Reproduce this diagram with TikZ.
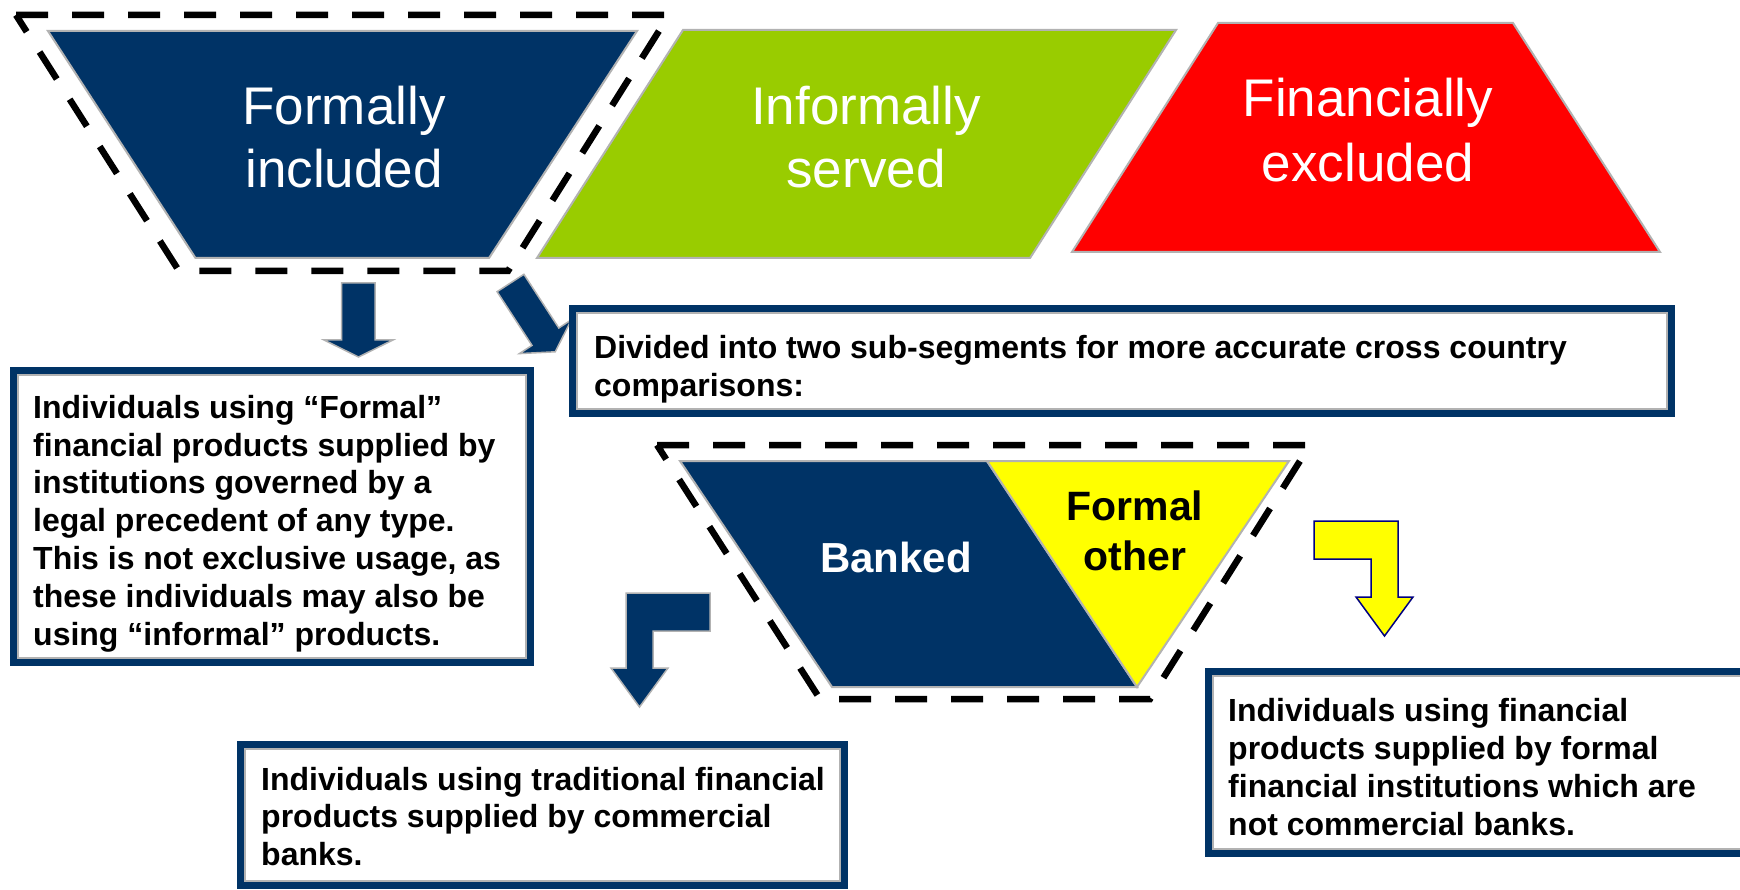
\documentclass[tikz,border=0pt]{standalone}
\usepackage{fontspec}
\setmainfont{Liberation Sans}
\definecolor{navy}{HTML}{003366}
\definecolor{leaf}{HTML}{99CC00}
\definecolor{alarm}{HTML}{FF0000}
\definecolor{lemon}{HTML}{FFFF00}
\definecolor{rim}{HTML}{B2B2B2}
\definecolor{deepblue}{HTML}{000080}
\begin{document}
% multi-line nodes are placed by the baseline of their last line
\begin{tikzpicture}[x=1pt,y=-1pt,
  segment/.style={draw=rim,line width=2pt,line join=miter},
  groupline/.style={draw=black,line width=6.5pt,dash pattern=on 32pt off 24pt,line join=miter},
  blockarrow/.style={fill=navy,draw=rim,line width=1.5pt,line join=miter},
  cardframe/.style={draw=navy,line width=8pt,fill=white},
  cardrim/.style={draw=rim,line width=1.2pt},
  bigtitle/.style={text=white,align=center,inner sep=0pt,anchor=base,
    font=\fontsize{53}{63.5}\selectfont},
  cardtext/.style={align=left,inner sep=0pt,anchor=base west,
    font=\fontsize{32}{37.8}\selectfont\bfseries},
  subtitle/.style={align=center,inner sep=0pt,anchor=base,
    font=\fontsize{42}{50}\selectfont\bfseries}]

\useasboundingbox (0,0) rectangle (1740,890);
\fill[white] (0,0) rectangle (1740,890);

% three top segments
\draw[segment,fill=navy] (48,31) -- (637,31) -- (489,258) -- (195.5,258) -- cycle;
\draw[segment,fill=leaf] (683,30) -- (1176,30) -- (1030,258) -- (537,258) -- cycle;
\draw[segment,fill=alarm] (1218,23) -- (1513,23) -- (1660,252) -- (1072,252) -- cycle;
\draw[groupline] (16,15) -- (669,15) -- (508,271) -- (179,271) -- cycle;

\node[bigtitle] (formal) at (344,188) {Formally\\included};
\node[bigtitle] (informal) at (866,188) {Informally\\served};
\node[bigtitle,font=\fontsize{53}{65}\selectfont] (excluded) at (1368,182) {Financially\\excluded};

% arrows leaving the formal segment
\draw[blockarrow] (341.5,283) -- (375,283) -- (375,340) -- (393,340) -- (358.5,357)
  -- (324,340) -- (341.5,340) -- cycle;
\draw[blockarrow] (523.9,274.3) -- (558.8,328.0) -- (571.4,319.8) -- (555.2,351.8)
  -- (519.4,353.6) -- (532.0,345.4) -- (497.1,291.7) -- cycle;

% description cards
\draw[cardframe] (573,309) rectangle (1671,413);
\draw[cardrim] (577,313) rectangle (1667,409);
\node[cardtext,font=\fontsize{32}{38}\selectfont\bfseries] (divided) at (594,396)
  {Divided into two sub-segments for more accurate cross country\\comparisons:};

\draw[cardframe] (14,371) rectangle (530,662);
\draw[cardrim] (18,375) rectangle (526,658);
\node[cardtext] (formaldesc) at (33,645)
  {Individuals using “Formal”\\financial products supplied by\\institutions governed by a\\legal precedent of any type.\\This is not exclusive usage, as\\these individuals may also be\\using “informal” products.};

% banked / formal other split
\draw[segment,fill=navy] (680,461) -- (987,461) -- (1137,687) -- (832,687) -- cycle;
\draw[segment,fill=lemon] (987,461) -- (1289,461) -- (1137,687) -- cycle;
\draw[groupline] (657,445) -- (1310,445) -- (1150,699) -- (820,699) -- cycle;
\node[subtitle,text=white] (banked) at (896,572) {Banked};
\node[subtitle,text=black,font=\fontsize{41}{50}\selectfont\bfseries] (fother) at (1135,570) {Formal\\other};

% bent arrows to the lower cards
\draw[blockarrow] (626,593) -- (710,593) -- (710,631) -- (653,631) -- (653,668)
  -- (668,668) -- (639.5,707) -- (611,668) -- (626,668) -- cycle;
\draw[fill=lemon,draw=deepblue,line width=1.5pt,line join=miter]
  (1314,521) -- (1398,521) -- (1398,597) -- (1413,597) -- (1384.5,636)
  -- (1356,597) -- (1371,597) -- (1371,559) -- (1314,559) -- cycle;

\draw[cardframe] (241,745) rectangle (844,885);
\draw[cardrim] (245,749) rectangle (840,881);
\node[cardtext,font=\fontsize{32}{37.5}\selectfont\bfseries] (bankdesc) at (261,865)
  {Individuals using traditional financial\\products supplied by commercial\\banks.};

\draw[cardframe] (1209,672) rectangle (1770,853);
\draw[cardrim] (1213,676) rectangle (1770,849);
\node[cardtext,font=\fontsize{32}{37.7}\selectfont\bfseries] (otherdesc) at (1228,835)
  {Individuals using financial\\products supplied by formal\\financial institutions which are\\not commercial banks.};
\end{tikzpicture}
\end{document}
